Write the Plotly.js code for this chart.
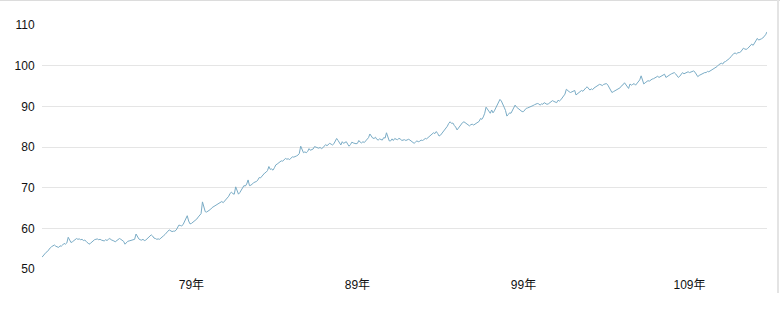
<!DOCTYPE html>
<html>
<head>
<meta charset="utf-8">
<script src="https://cdn.plot.ly/plotly-3.0.1.min.js"></script>
<style>
  html, body { margin: 0; padding: 0; background: #ffffff; }
  #wrap { position: relative; width: 780px; height: 314px; overflow: hidden; }
  #chart { width: 780px; height: 314px; }
  #topline { position: absolute; left: 0; top: 0; width: 780px; height: 1px; background: #dcdcdc; }
  #rightline { position: absolute; left: 777px; top: 0; width: 2px; height: 293px; background: #e4e4e4; }
</style>
</head>
<body>
<div id="wrap">
  <div id="chart"></div>
  <div id="topline"></div>
  <div id="rightline"></div>
</div>
<script>
// Monthly index values, 民國70年1月 (1981-01) through 113年9月 (2024-09)
const startYear = 1981;
const cpi = [
  /*70*/ 52.9, 53.4, 53.8, 54.1, 54.3, 54.9, 55.2, 55.5, 55.8, 55.9, 55.6, 55.4,
  /*71*/ 55.3, 55.7, 55.6, 55.9, 56.3, 56.1, 56.4, 57.8, 57.0, 56.5, 56.7, 56.9,
  /*72*/ 57.1, 57.5, 57.3, 57.4, 57.2, 57.3, 57.0, 57.1, 56.8, 56.5, 56.1, 56.3,
  /*73*/ 56.7, 57.0, 57.2, 57.3, 57.4, 57.2, 57.3, 57.1, 57.0, 56.9, 57.2, 57.0,
  /*74*/ 57.3, 57.5, 57.2, 57.1, 56.9, 56.7, 57.0, 57.2, 57.5, 57.3, 57.1, 56.8,
  /*75*/ 56.1, 56.6, 56.8, 56.9, 57.0, 57.0, 57.1, 57.3, 58.6, 58.0, 57.4, 57.2,
  /*76*/ 57.1, 57.3, 57.0, 57.1, 57.4, 57.8, 57.9, 58.4, 58.1, 57.6, 57.5, 57.3,
  /*77*/ 57.4, 57.3, 57.6, 58.0, 58.2, 58.5, 59.0, 59.3, 59.6, 59.4, 59.2, 59.3,
  /*78*/ 59.3, 59.6, 60.1, 60.8, 60.7, 60.6, 60.9, 61.6, 62.2, 63.1, 61.8, 61.1,
  /*79*/ 61.2, 61.5, 61.6, 61.9, 62.3, 62.8, 63.3, 63.6, 66.5, 64.9, 64.1, 64.0,
  /*80*/ 64.2, 64.6, 64.7, 65.1, 65.3, 65.5, 65.7, 65.9, 66.2, 66.4, 66.6, 66.3,
  /*81*/ 66.7, 67.3, 67.5, 67.9, 68.6, 68.9, 68.5, 68.4, 70.2, 69.0, 68.4, 68.8,
  /*82*/ 69.4, 70.1, 70.5, 70.4, 70.9, 71.9, 70.5, 70.6, 71.0, 71.2, 71.4, 71.5,
  /*83*/ 71.9, 72.5, 72.4, 72.8, 73.3, 73.6, 73.8, 74.2, 75.2, 74.5, 74.6, 74.3,
  /*84*/ 74.9, 75.6, 75.8, 76.0, 76.4, 76.6, 76.5, 76.8, 77.2, 77.0, 77.1, 76.9,
  /*85*/ 77.3, 77.6, 77.5, 77.6, 77.8, 78.0, 78.4, 80.2, 79.4, 78.6, 78.8, 78.6,
  /*86*/ 78.9, 79.6, 79.2, 79.4, 79.5, 80.1, 80.0, 79.8, 79.7, 79.9, 79.6, 79.8,
  /*87*/ 80.1, 80.6, 80.3, 80.5, 80.9, 80.7, 80.5, 80.8, 81.3, 82.1, 81.6, 80.9,
  /*88*/ 80.5, 81.3, 80.9, 81.1, 81.3, 80.7, 80.2, 80.6, 81.2, 81.0, 80.9, 80.8,
  /*89*/ 80.9, 81.6, 81.2, 81.0, 81.3, 81.1, 81.5, 81.9, 82.3, 83.2, 82.7, 82.2,
  /*90*/ 82.1, 82.4, 81.9, 81.7, 82.0, 81.9, 81.7, 82.3, 82.2, 83.5, 82.1, 81.5,
  /*91*/ 81.5, 82.0, 81.6, 82.1, 81.9, 81.8, 82.1, 82.0, 81.6, 81.7, 81.8, 81.6,
  /*92*/ 81.7, 81.9, 81.7, 81.5, 81.2, 80.9, 81.2, 81.5, 81.3, 81.4, 81.7, 81.6,
  /*93*/ 81.8, 82.1, 82.0, 82.3, 82.5, 82.8, 83.2, 83.5, 83.3, 83.8, 83.3, 82.7,
  /*94*/ 82.9, 83.3, 83.8, 84.2, 84.6, 85.1, 85.8, 86.2, 85.8, 85.9, 85.3, 84.9,
  /*95*/ 84.2, 84.7, 85.2, 85.6, 86.0, 86.2, 86.0, 85.8, 85.4, 85.2, 85.5, 85.6,
  /*96*/ 85.4, 85.6, 85.7, 85.9, 86.3, 87.0, 86.8, 87.4, 88.3, 89.8, 89.2, 88.6,
  /*97*/ 88.3, 89.1, 88.4, 88.9, 89.6, 90.3, 90.9, 91.7, 91.3, 90.7, 89.8, 89.0,
  /*98*/ 87.6, 88.0, 88.4, 88.3, 88.9, 89.4, 90.3, 89.8, 89.5, 89.3, 89.0, 88.7,
  /*99*/ 88.7, 89.3, 89.5, 89.6, 89.8, 89.9, 90.1, 90.2, 90.4, 90.5, 90.7, 90.6,
  /*100*/ 90.3, 90.6, 90.5, 90.9, 90.7, 90.5, 90.6, 90.8, 91.0, 91.4, 91.2, 91.1,
  /*101*/ 90.9, 91.5, 91.3, 91.6, 92.0, 92.4, 93.0, 94.2, 93.8, 93.6, 93.4, 93.6,
  /*102*/ 93.6, 93.9, 92.8, 93.1, 93.4, 93.6, 93.9, 93.7, 94.2, 94.5, 94.8, 94.4,
  /*103*/ 94.0, 94.3, 94.1, 94.5, 94.7, 94.9, 95.2, 95.4, 95.3, 95.1, 95.4, 95.6,
  /*104*/ 95.6, 95.2, 94.5, 93.9, 93.4, 93.6, 93.8, 94.0, 94.1, 94.2, 94.6, 95.1,
  /*105*/ 95.3, 95.8, 95.3, 95.0, 94.4, 95.5, 95.2, 95.4, 95.6, 95.2, 95.6, 96.0,
  /*106*/ 96.5, 97.5, 96.4, 95.5, 95.8, 96.0, 96.3, 96.2, 96.5, 96.7, 96.8, 97.0,
  /*107*/ 97.2, 97.4, 97.1, 97.3, 97.5, 97.7, 97.9, 97.1, 97.4, 97.6, 97.8, 98.0,
  /*108*/ 98.1, 98.3, 98.0, 97.6, 97.1, 97.4, 97.8, 98.3, 98.0, 98.2, 98.4, 98.5,
  /*109*/ 98.3, 98.5, 98.6, 98.7, 98.4, 97.9, 97.3, 97.6, 97.8, 98.0, 98.2, 98.3,
  /*110*/ 98.3, 98.6, 98.5, 98.7, 98.9, 99.0, 99.3, 99.5, 99.8, 100.2, 100.4, 100.6,
  /*111*/ 100.4, 100.9, 101.0, 101.2, 101.5, 101.8, 102.2, 102.6, 103.0, 103.1, 102.9, 103.2,
  /*112*/ 103.2, 103.4, 103.8, 104.3, 104.1, 104.0, 104.2, 104.6, 104.9, 105.3, 105.0, 105.6,
  /*113*/ 105.9, 106.7, 106.3, 106.4, 106.6, 106.8, 107.1, 107.6, 108.3
];
const tickDates = ['1990-01-01', '2000-01-01', '2010-01-01', '2020-01-01'];
const tickLabels = ['79年', '89年', '99年', '109年'];
const yTicks = [50, 60, 70, 80, 90, 100, 110];

// month labels for each value
const months = cpi.map(function (_, i) {
  const y = startYear + Math.floor(i / 12);
  const m = (i % 12) + 1;
  return y + '-' + (m < 10 ? '0' + m : m) + '-01';
});

const fontFamily = '"Liberation Sans", Arial, "Noto Sans CJK TC", sans-serif';

Plotly.newPlot('chart', [{
  x: months,
  y: cpi,
  type: 'scatter',
  mode: 'lines',
  line: { color: 'rgb(122,172,198)', width: 1 },
  hoverinfo: 'skip'
}], {
  width: 780,
  height: 314,
  margin: { l: 42, r: 13, t: 25, b: 45 },
  paper_bgcolor: '#ffffff',
  plot_bgcolor: '#ffffff',
  showlegend: false,
  font: { family: fontFamily, size: 12, color: '#111111' },
  xaxis: {
    type: 'date',
    range: [months[0], months[months.length - 1]],
    tickmode: 'array',
    tickvals: tickDates,
    ticktext: tickLabels,
    showgrid: false,
    zeroline: false,
    showline: false,
    ticks: 'outside',
    ticklen: 5,
    tickcolor: 'rgba(0,0,0,0)',
    tickfont: { family: fontFamily, size: 12, color: '#111111' }
  },
  yaxis: {
    range: [50, 110],
    tickmode: 'array',
    tickvals: yTicks,
    showgrid: true,
    gridcolor: '#e5e5e5',
    gridwidth: 1,
    zeroline: false,
    showline: false,
    ticks: 'outside',
    ticklen: 4,
    tickcolor: 'rgba(0,0,0,0)',
    tickfont: { family: fontFamily, size: 12, color: '#111111' }
  }
}, { staticPlot: true, displayModeBar: false });
</script>
</body>
</html>
